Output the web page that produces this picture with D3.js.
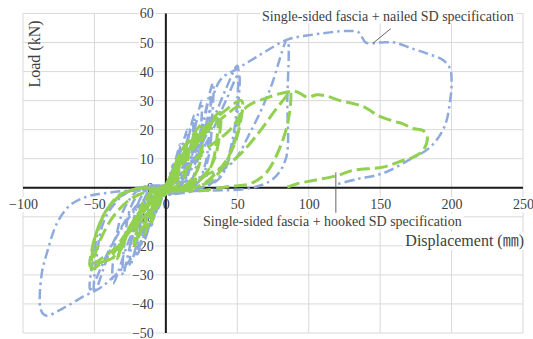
<!DOCTYPE html>
<html>
<head>
<meta charset="utf-8">
<script src="https://cdn.jsdelivr.net/npm/d3@7"></script>
<style>
  html, body { margin: 0; padding: 0; background: #fff; }
  svg { display: block; font-family: "Liberation Serif", "Times New Roman", "Noto Sans CJK JP", serif; }
</style>
</head>
<body>
<svg id="chart" width="533" height="339"></svg>
<script>
// axis ticks
const xTicks = [-100, -50, 0, 50, 100, 150, 200, 250];
const yTicks = [-50, -40, -30, -20, -10, 0, 10, 20, 30, 40, 50, 60];

// [displacement (mm), load (kN)] - nailed SD specification
const nailed = [
  [0,0],[2,3],[5,8],[4.5,5],[3,1],[0,-1],[-3,-4],[-5,-7],[-4.5,-4],[-3,-1],[0,1],
  [3,4],[7,10],[10,15],[9.5,10],[8,4],[5,1],[0,-1],[-4,-5],[-8,-10],[-10,-13],[-9.5,-8],[-8,-3],[-5,0],[0,1],
  [4,4],[8,9],[10,14],[9.5,9],[7,3],[3,0],[-3,-3],[-7,-8],[-10,-12],[-9,-6],[-6,-1],[0,1],
  [5,5],[10,12],[15,20],[14.5,14],[13,6],[9,1],[3,-1],[-3,-3],[-10,-11],[-15,-18],[-14.5,-11],[-12,-4],[-8,0],[0,1],
  [6,4],[13,13],[20,25],[19.5,17],[17,7],[12,1],[4,-1],[-5,-3],[-13,-13],[-20,-23],[-19.5,-15],[-16,-5],[-10,0],[0,1],
  [6,4],[13,12],[19,23],[18.5,15],[16,6],[11,1],[3,-1],[-6,-4],[-14,-12],[-19,-21],[-18,-13],[-14,-4],[-8,0],[0,1],
  [8,4],[17,14],[25,30],[24.5,20],[22,9],[16,1],[5,-1],[-7,-4],[-17,-14],[-25,-27],[-24,-18],[-20,-6],[-12,0],[0,1],
  [10,4],[22,16],[33,36],[32.5,25],[30,11],[23,2],[8,-1],[-10,-4],[-24,-16],[-37,-33],[-36,-21],[-29,-7],[-17,0],[0,1],
  [10,3],[22,14],[31,32],[30.5,22],[28,9],[21,1],[6,-1],[-10,-5],[-22,-15],[-30,-30],[-29,-19],[-24,-6],[-14,0],[0,1],
  [12,4],[30,20],[42,34],[50,42],[50,30],[46,15],[38,4],[20,-1],[-15,-4],[-35,-17],[-50,-36],[-49,-26],[-42,-10],[-25,-1],[0,1],
  [12,3],[30,17],[42,30],[51,39],[50.5,28],[46,13],[37,3],[18,-1],[-15,-5],[-36,-18],[-53,-35],[-51,-25],[-43,-9],[-25,-1],[0,1],
  [20,3],[45,8],[60,20],[73,34],[85,51],[85,30],[84,10],[75,3],[60,0],[30,-1],[0,-1],[-25,-1],[-45,-2],
  [-55,-3],[-67,-6],[-76,-12],[-83,-22],[-87,-30],[-87.5,-42],[-84,-44],[-72,-41.5],[-58,-37.5],
  [-46,-34.5],[-37,-30.8],[-27,-26],[-20,-21.6],[-15,-17],[-8,-9],[0,0],
  [20,10],[38,37],[50,41],[60,44],[70,47],[85,51],[100,52.5],[115,53.5],[128,54],[135,53.5],[140,50],
  [150,50],[160,50],[172,48],[184,46],[194,44],[199,41],[200,37],[199,30],[195,21],[185,14],
  [170,9.5],[152,5],[134,3],[118,1]
];

// [displacement (mm), load (kN)] - hooked SD specification
const hooked = [
  [0,0],[3,3],[5,6],[4.5,3],[3,0.5],[0,-1],[-3,-3],[-5,-6],[-4.5,-3],[-3,-0.5],[0,1],
  [3,4],[7,8],[10,11],[9.5,7],[7,2],[3,0],[-1,-1],[-4,-4],[-8,-9],[-10,-12],[-9.5,-7],[-7,-2],[-3,0],[0,1],
  [4,5],[10,12],[16,16],[15.5,10],[13,4],[7,0.5],[1,-1],[-4,-3],[-10,-9],[-15,-16],[-14,-10],[-11,-4],[-6,-0.5],[0,1],
  [5,6],[16,16],[26,22],[25.5,14],[22,6],[14,1],[4,-1],[-6,-4],[-15,-12],[-22,-20],[-20.5,-13],[-16,-5],[-9,-1],[0,1],
  [5,5],[15,14],[25,20],[24.5,13],[21,5],[13,0.5],[4,-1],[-6,-4],[-14,-11],[-21,-18],[-19.5,-12],[-15,-5],[-8,-1],[0,1],
  [8,7],[20,16],[30,22],[38,26],[37.5,18],[34,10],[27,4],[16,0.5],[5,-1],[-8,-3],[-18,-8],[-28,-16],[-34,-24.5],
  [-31,-21],[-24,-13],[-14,-6],[-5,-2],[0,0],
  [8,6],[19,14],[29,20],[36,24],[35.5,16],[32,8],[24,3],[13,0],[3,-1],[-8,-4],[-19,-10],[-28,-17],[-33,-23],
  [-30,-19],[-22,-11],[-12,-5],[-4,-1],[0,0],
  [10,8],[20,16],[29,21],[40,26],[53,30],[52,22],[48,15],[43,10],[35,5],[25,1],[10,-1],[0,-1],[-13,0.2],[-25,-1],
  [-34,-3],[-44,-10],[-49.5,-17],[-52,-25],[-52,-28],[-44,-25.6],[-37,-24],[-30,-18],[-20,-12.4],[-11,-7.8],[-4,-4.4],[0,-2],
  [10,7],[20,14],[30,20],[42,25],[51,28],[50.5,20],[46,13],[40,7],[30,2],[18,0],[5,-1],[-10,-1],[-25,-4],[-37,-10],
  [-45,-17],[-49,-22],[-51,-26],[-44,-24],[-36,-21],[-27,-15],[-17,-9],[-8,-4],[0,-1],
  [10,0],[21,3],[35,6],[50,10.6],[65,19],[77,27],[83.5,31],[87,33],[86,24],[80,14],[70,5],[59,1.4],[45,0.5],[25,-1],
  [10,-1],[0,-1],[-15,0],[-30,-2],[-42,-8],[-49,-16],[-52,-22],[-53,-27],[-47,-26],[-40,-24.5],[-33,-20],[-24,-13],
  [-14,-7],[-5,-3],[0,-1],
  [10,4],[25,12],[45,20],[57,28],[71,31],[85,33],[92,33],[99,31.2],[106,32],[113,31.5],[122,30],[131,29],[138,28],
  [143,26.6],[148,25],[159,23],[166,22],[173,20.4],[180,19.7],[183,17.4],[180,12.8],[173,10.5],[166,9.4],[152,7.1],
  [131,6],[120,4.2],[103,2.5],[92,1.4],[85,0.2]
];

const svg = d3.select('#chart');
const width = 533, height = 339;
svg.append('rect').attr('width', width).attr('height', height).attr('fill', '#fff');

const x = d3.scaleLinear().domain([-100, 250]).range([23, 523]);
const y = d3.scaleLinear().domain([-50, 60]).range([333, 13.5]);

const textColor = '#404040';

// gridlines
svg.append('g').attr('class', 'grid')
  .selectAll('line.v').data(xTicks).enter().append('line')
  .attr('x1', d => x(d)).attr('x2', d => x(d))
  .attr('y1', y(60)).attr('y2', y(-50))
  .attr('stroke', '#d9d9d9').attr('stroke-width', 1);
svg.select('.grid')
  .selectAll('line.h').data(yTicks).enter().append('line')
  .attr('x1', x(-100)).attr('x2', x(250))
  .attr('y1', d => y(d)).attr('y2', d => y(d))
  .attr('stroke', '#d9d9d9').attr('stroke-width', 1);

// tick labels next to the zero lines
const yAxis = svg.append('g')
  .attr('transform', `translate(${x(0)},0)`)
  .call(d3.axisLeft(y).tickValues(yTicks).tickSize(0).tickPadding(12));
const xAxis = svg.append('g')
  .attr('transform', `translate(0,${y(0)})`)
  .call(d3.axisBottom(x).tickValues(xTicks).tickSize(0).tickPadding(11.5));

[yAxis, xAxis].forEach(ax => {
  ax.select('.domain').remove();
  ax.selectAll('text')
    .attr('font-family', '"Liberation Serif", "Times New Roman", serif')
    .attr('font-size', 14)
    .attr('fill', textColor);
  ax.selectAll('.tick').each(function () {
    const t = d3.select(this).select('text');
    const bb = t.node().getBBox();
    d3.select(this).insert('rect', 'text')
      .attr('x', bb.x - 1).attr('y', bb.y)
      .attr('width', bb.width + 2).attr('height', bb.height)
      .attr('fill', '#fff');
  });
});

// zero lines
svg.append('line')
  .attr('x1', x(0)).attr('x2', x(0)).attr('y1', y(60)).attr('y2', y(-50))
  .attr('stroke', '#1a1a1a').attr('stroke-width', 2);
svg.append('line')
  .attr('x1', x(-100)).attr('x2', x(250)).attr('y1', y(0)).attr('y2', y(0))
  .attr('stroke', '#1a1a1a').attr('stroke-width', 2);

// series
svg.append('clipPath').attr('id', 'plotClip')
  .append('rect')
  .attr('x', x(-100)).attr('y', y(60))
  .attr('width', x(250) - x(-100)).attr('height', y(-50) - y(60));

const line = d3.line()
  .x(d => x(d[0]))
  .y(d => y(d[1]))
  .curve(d3.curveCatmullRom.alpha(0.5));

const series = svg.append('g').attr('clip-path', 'url(#plotClip)');
series.append('path')
  .datum(nailed)
  .attr('d', line)
  .attr('fill', 'none')
  .attr('stroke', '#8faadc')
  .attr('stroke-width', 2.5)
  .attr('stroke-dasharray', '10,4,2.5,4');
series.append('path')
  .datum(hooked)
  .attr('d', line)
  .attr('fill', 'none')
  .attr('stroke', '#92d050')
  .attr('stroke-width', 3)
  .attr('stroke-dasharray', '13,5');

// axis titles
svg.append('text')
  .attr('transform', 'translate(40,54) rotate(-90)')
  .attr('text-anchor', 'middle')
  .attr('font-size', 16)
  .attr('fill', textColor)
  .text('Load (kN)');

function boxedText(tx, ty, str, size, anchor) {
  const t = svg.append('text')
    .attr('x', tx).attr('y', ty)
    .attr('text-anchor', anchor)
    .attr('font-size', size)
    .attr('fill', textColor)
    .text(str);
  const bb = t.node().getBBox();
  svg.insert('rect', () => t.node())
    .attr('x', bb.x - 2).attr('y', bb.y)
    .attr('width', bb.width + 4).attr('height', bb.height)
    .attr('fill', '#fff');
  return t;
}

boxedText(524, 246, 'Displacement (\u339C)', 16, 'end');

// annotations with leader lines
svg.append('line')
  .attr('x1', x(145.3)).attr('y1', y(49.9))
  .attr('x2', x(157.5)).attr('y2', y(54.8))
  .attr('stroke', textColor).attr('stroke-width', 0.8);
boxedText(262, 20.5, 'Single-sided fascia + nailed SD specification', 14, 'start');

svg.append('line')
  .attr('x1', x(119)).attr('y1', y(5.3))
  .attr('x2', x(119)).attr('y2', y(-8.6))
  .attr('stroke', textColor).attr('stroke-width', 0.8);
boxedText(203, 225.5, 'Single-sided fascia + hooked SD specification', 14, 'start');
</script>
</body>
</html>
